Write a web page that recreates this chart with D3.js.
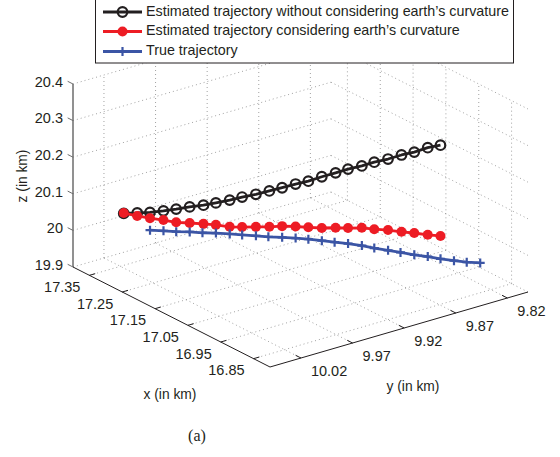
<!DOCTYPE html>
<meta charset="utf-8">
<title>Trajectory 3D</title>
<style>
  body { margin: 0; background: #fff; }
  text { font-family: "Liberation Sans", Arial, Helvetica, sans-serif; fill: #231f20; }
</style>
<body>
<script src="https://d3js.org/d3.v7.min.js"></script>
<script>

    var width = 560,
        height = 457;

    // tick labels
    var xTicks = [17.35, 17.25, 17.15, 17.05, 16.95, 16.85];
    var yTicks = [10.02, 9.97, 9.92, 9.87, 9.82];
    var zTicks = [19.9, 20, 20.1, 20.2, 20.3, 20.4];

    var seriesNames = ["Estimated trajectory without considering earth\u2019s curvature",
                       "Estimated trajectory considering earth\u2019s curvature",
                       "True trajectory"];

    // estimated trajectories (x, y shared, z differs)
    var estX = [17.368, 17.349, 17.329, 17.310, 17.290, 17.271, 17.251, 17.232, 17.212, 17.193,
                17.173, 17.154, 17.134, 17.115, 17.095, 17.076, 17.056, 17.037, 17.017, 16.998,
                16.978, 16.959, 16.939, 16.920, 16.900];
    var estY = [10.011, 10.004, 9.998, 9.991, 9.985, 9.978, 9.971, 9.965, 9.958, 9.952,
                9.945, 9.938, 9.932, 9.925, 9.919, 9.912, 9.905, 9.899, 9.892, 9.886,
                9.879, 9.872, 9.866, 9.859, 9.853];
    var noCurvZ = [20.029, 20.033, 20.039, 20.046, 20.055, 20.064, 20.072, 20.082, 20.093, 20.105,
                   20.116, 20.128, 20.141, 20.154, 20.166, 20.181, 20.195, 20.209, 20.221, 20.235,
                   20.247, 20.261, 20.273, 20.288, 20.299];
    var curvZ = [20.030, 20.025, 20.023, 20.021, 20.019, 20.020, 20.021, 20.022, 20.020, 20.023,
                 20.027, 20.030, 20.036, 20.038, 20.040, 20.041, 20.045, 20.048, 20.052, 20.052,
                 20.053, 20.051, 20.052, 20.050, 20.051];

    // true trajectory
    var trueX = [17.310, 17.291, 17.271, 17.252, 17.232, 17.213, 17.193, 17.174, 17.154, 17.135,
                 17.115, 17.096, 17.076, 17.057, 17.037, 17.018, 16.998, 16.979, 16.959, 16.940,
                 16.920, 16.901, 16.881, 16.862, 16.842, 16.823];
    var trueY = [10.004, 9.997, 9.991, 9.984, 9.978, 9.971, 9.964, 9.958, 9.951, 9.945,
                 9.938, 9.931, 9.925, 9.918, 9.912, 9.905, 9.898, 9.892, 9.885, 9.879,
                 9.872, 9.865, 9.859, 9.852, 9.846, 9.839];
    var trueZ = [20.004, 20.005, 20.007, 20.009, 20.011, 20.013, 20.014, 20.015, 20.016, 20.017,
                 20.019, 20.020, 20.021, 20.020, 20.020, 20.019, 20.017, 20.014, 20.011, 20.009,
                 20.006, 20.004, 20.002, 20.000, 20.000, 20.001];

    var colors = ["#231f20", "#ed1c24", "#3b55a5"];

    // normalised box coords
    var u = d3.scaleLinear().domain([17.4, 16.8]).range([0, 1]);
    var v = d3.scaleLinear().domain([10.05, 9.80]).range([0, 1]);
    var w = d3.scaleLinear().domain([19.9, 20.4]).range([0, 1]);

    // oblique view: origin + u/v/w axis vectors in pixels
    var O = [73, 267], U = [197, 100], V = [258, -75], W = [0, -183];
    function projUVW(a, b, c) {
        return [O[0] + a * U[0] + b * V[0] + c * W[0],
                O[1] + a * U[1] + b * V[1] + c * W[1]];
    }
    function proj(x, y, z) {
        return projUVW(u(x), v(y), w(z));
    }

    var svg = d3.select("body").append("svg")
        .attr("width", width)
        .attr("height", height);

    var line2 = d3.line();

    // grid
    var grid = svg.append("g")
        .attr("fill", "none")
        .attr("stroke", "#8a8a8a")
        .attr("stroke-width", 0.8)
        .attr("stroke-dasharray", "1,3");
    var segs = [];
    xTicks.forEach(function(t) {
        segs.push([projUVW(u(t), 0, 0), projUVW(u(t), 1, 0)]);
        segs.push([projUVW(u(t), 1, 0), projUVW(u(t), 1, 1)]);
    });
    yTicks.forEach(function(t) {
        segs.push([projUVW(0, v(t), 0), projUVW(1, v(t), 0)]);
        segs.push([projUVW(0, v(t), 0), projUVW(0, v(t), 1)]);
    });
    zTicks.forEach(function(t) {
        segs.push([projUVW(0, 0, w(t)), projUVW(0, 1, w(t))]);
        segs.push([projUVW(0, 1, w(t)), projUVW(1, 1, w(t))]);
    });
    grid.selectAll("path").data(segs).join("path").attr("d", line2);

    // axes lines
    var axes = svg.append("g").attr("fill", "none");
    axes.append("path")
        .attr("d", line2([projUVW(0, 0, 0), projUVW(0, 0, 1)]))
        .attr("stroke", "#6d6d6d").attr("stroke-width", 1.5);
    axes.append("path")
        .attr("d", line2([projUVW(0, 0, 0), projUVW(1, 0, 0), projUVW(1, 1, 0)]))
        .attr("stroke", "#231f20").attr("stroke-width", 1);

    function unit(p, len) {
        var n = Math.sqrt(p[0] * p[0] + p[1] * p[1]);
        return [p[0] / n * len, p[1] / n * len];
    }
    var tU = unit([-U[0], -U[1]], 6), tV = unit(V, 6);

    // x ticks
    xTicks.forEach(function(t) {
        var p = projUVW(u(t), 0, 0);
        axes.append("path").attr("d", line2([p, [p[0] + tV[0], p[1] + tV[1]]]))
            .attr("stroke", "#231f20");
        svg.append("text").attr("x", p[0] - 9).attr("y", p[1] + 13)
            .attr("text-anchor", "end").attr("dominant-baseline", "middle")
            .style("font-size", "14.5px").text(t.toFixed(2));
    });
    // y ticks
    yTicks.forEach(function(t) {
        var p = projUVW(1, v(t), 0);
        axes.append("path").attr("d", line2([p, [p[0] + tU[0], p[1] + tU[1]]]))
            .attr("stroke", "#231f20");
        svg.append("text").attr("x", p[0] + 10).attr("y", p[1] + 14)
            .attr("text-anchor", "start").attr("dominant-baseline", "middle")
            .style("font-size", "14.5px").text(t.toFixed(2));
    });
    // z ticks
    zTicks.forEach(function(t) {
        var p = projUVW(0, 0, w(t));
        axes.append("path").attr("d", line2([p, [p[0] + tU[0], p[1] + tU[1]]]))
            .attr("stroke", "#6d6d6d");
        svg.append("text").attr("x", p[0] - 10).attr("y", p[1] - 1)
            .attr("text-anchor", "end").attr("dominant-baseline", "middle")
            .style("font-size", "14.5px").text(d3.format(".1f")(t).replace(".0", ""));
    });

    // axis labels
    svg.append("text").attr("x", 170).attr("y", 395)
        .attr("text-anchor", "middle").attr("dominant-baseline", "middle")
        .style("font-size", "13.8px").text("x (in km)");
    svg.append("text").attr("x", 413).attr("y", 387)
        .attr("text-anchor", "middle").attr("dominant-baseline", "middle")
        .style("font-size", "13.8px").text("y (in km)");
    svg.append("text").attr("transform", "translate(23,176) rotate(-90)")
        .attr("text-anchor", "middle").attr("dominant-baseline", "middle")
        .style("font-size", "13.8px").text("z (in km)");

    // trajectories
    var series = [
        {x: estX, y: estY, z: noCurvZ, marker: "o"},
        {x: estX, y: estY, z: curvZ, marker: "dot"},
        {x: trueX, y: trueY, z: trueZ, marker: "+"}
    ];

    function drawMarker(g, p, type, color) {
        if (type === "o") {
            g.append("circle").attr("cx", p[0]).attr("cy", p[1]).attr("r", 4.8)
                .attr("fill", "none").attr("stroke", color).attr("stroke-width", 2.2);
        } else if (type === "dot") {
            g.append("circle").attr("cx", p[0]).attr("cy", p[1]).attr("r", 5)
                .attr("fill", color);
        } else {
            g.append("path")
                .attr("d", "M" + (p[0] - 4.5) + "," + p[1] + "H" + (p[0] + 4.5) +
                           "M" + p[0] + "," + (p[1] - 4.5) + "V" + (p[1] + 4.5))
                .attr("stroke", color).attr("stroke-width", 2.2);
        }
    }

    series.forEach(function(s, i) {
        var pts = s.x.map(function(d, k) { return proj(s.x[k], s.y[k], s.z[k]); });
        var g = svg.append("g");
        g.append("path").attr("d", line2(pts))
            .attr("fill", "none").attr("stroke", colors[i])
            .attr("stroke-width", 2.8).attr("stroke-linejoin", "round");
        pts.forEach(function(p) { drawMarker(g, p, s.marker, colors[i]); });
    });

    // legend
    var leg = svg.append("g");
    leg.append("rect").attr("x", 95.5).attr("y", -1.5).attr("width", 418).attr("height", 64.5)
        .attr("fill", "#fff").attr("stroke", "#231f20").attr("stroke-width", 1);
    var rowY = [12, 31.5, 51.5];
    seriesNames.forEach(function(name, i) {
        leg.append("path").attr("d", line2([[103, rowY[i]], [142, rowY[i]]]))
            .attr("stroke", colors[i]).attr("stroke-width", 2.8);
        drawMarker(leg, [122.5, rowY[i]], series[i].marker, colors[i]);
        leg.append("text").attr("x", 146).attr("y", rowY[i])
            .attr("dominant-baseline", "middle")
            .style("font-size", "14.3px").text(name);
    });

    // caption
    svg.append("text").attr("x", 197).attr("y", 437)
        .attr("text-anchor", "middle").attr("dominant-baseline", "middle")
        .style("font-family", "'Liberation Serif', 'Times New Roman', serif")
        .style("font-size", "16px").text("(a)");

</script>
</body>
